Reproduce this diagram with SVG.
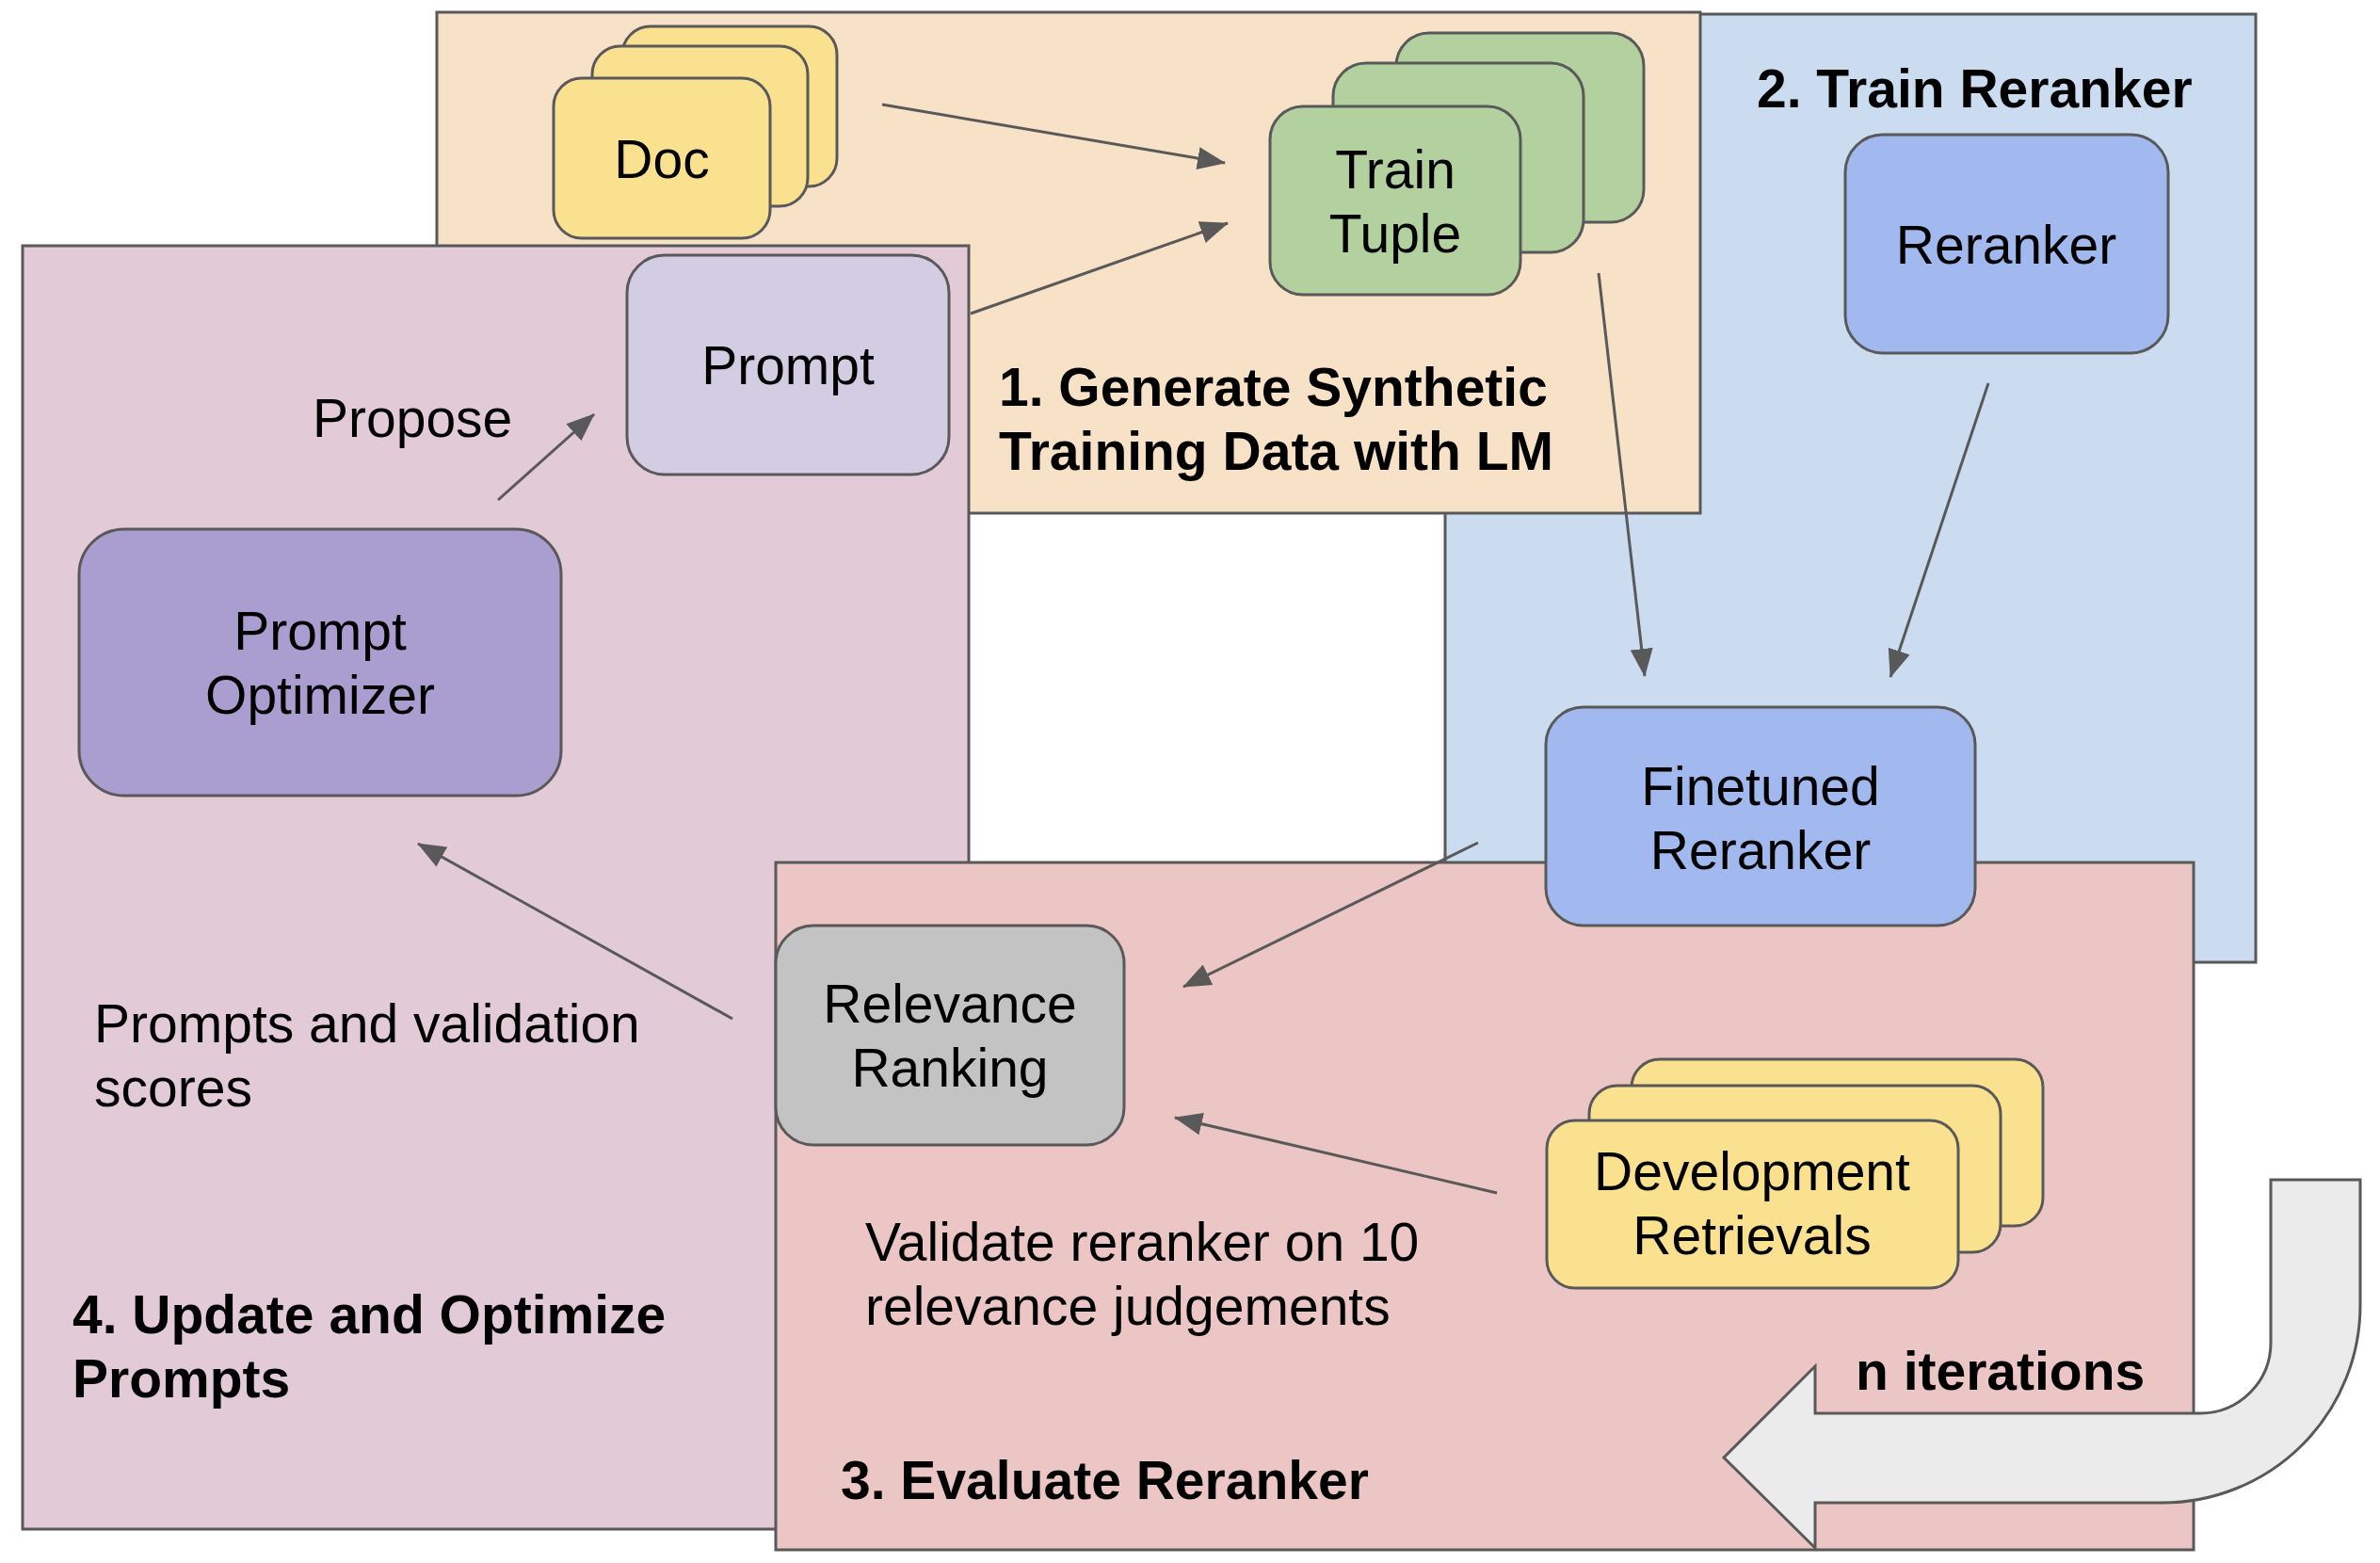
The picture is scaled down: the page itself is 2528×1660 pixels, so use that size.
<svg xmlns="http://www.w3.org/2000/svg" width="2528" height="1660" viewBox="0 0 2528 1660">
<defs>
<style>
.panel{stroke:#595959;stroke-width:3}
.node{stroke:#595959;stroke-width:3}
.t{font-family:"Liberation Sans",Arial,sans-serif;font-size:57px;fill:#000}
.c{text-anchor:middle}
.b{font-weight:bold}
.edge{stroke:#595959;stroke-width:3;fill:none;marker-end:url(#ah)}
</style>
<marker id="ah" viewBox="0 0 30 24" refX="29" refY="12" markerWidth="30" markerHeight="24" markerUnits="userSpaceOnUse" orient="auto">
<path d="M0,0 L30,12 L0,24 Z" fill="#595959"/>
</marker>
</defs>
<rect width="2528" height="1660" fill="#ffffff"/>

<g id="panel-train">
<rect class="panel" x="1535" y="15" width="861" height="1007" fill="#cbdcf1"/>
<text class="t b" x="1866" y="114">2. Train Reranker</text>
</g>
<g id="panel-generate">
<rect class="panel" x="464" y="13" width="1342" height="532" fill="#f7e1c7"/>
<text class="t b" x="1061" y="431">1. Generate Synthetic</text>
<text class="t b" x="1061" y="499">Training Data with LM</text>
</g>
<g id="panel-update">
<rect class="panel" x="24" y="261" width="1005" height="1363" fill="#e2cbd7"/>
<text class="t b" x="77" y="1416">4. Update and Optimize</text>
<text class="t b" x="77" y="1484">Prompts</text>
<text class="t" x="332" y="464">Propose</text>
<text class="t" x="100" y="1107">Prompts and validation</text>
<text class="t" x="100" y="1175">scores</text>
</g>
<g id="panel-evaluate">
<rect class="panel" x="824" y="916" width="1506" height="730" fill="#ecc6c4"/>
<text class="t b" x="893" y="1592">3. Evaluate Reranker</text>
<text class="t" x="919" y="1339">Validate reranker on 10</text>
<text class="t" x="919" y="1407">relevance judgements</text>
</g>

<g id="connectors">
<line class="edge" x1="937" y1="111" x2="1301" y2="173"/>
<line class="edge" x1="1031" y1="333" x2="1304" y2="237"/>
<line class="edge" x1="529" y1="531" x2="631" y2="440"/>
<line class="edge" x1="1698" y1="290" x2="1747" y2="718"/>
<line class="edge" x1="2112" y1="407" x2="2008" y2="719"/>
<line class="edge" x1="1570" y1="895" x2="1257" y2="1048"/>
<line class="edge" x1="1590" y1="1267" x2="1248" y2="1187"/>
<line class="edge" x1="778" y1="1082" x2="444" y2="896"/>
</g>

<g id="node-doc">
<rect class="node" x="661" y="28" width="228" height="170" rx="30" fill="#fae190"/>
<rect class="node" x="629" y="49" width="229" height="170" rx="30" fill="#fae190"/>
<rect class="node" x="588" y="83" width="230" height="170" rx="30" fill="#fae190"/>
<text class="t c" x="703" y="189">Doc</text>
</g>
<g id="node-train-tuple">
<rect class="node" x="1483" y="35" width="263" height="201" rx="35" fill="#b3d19f"/>
<rect class="node" x="1416" y="67" width="266" height="201" rx="35" fill="#b3d19f"/>
<rect class="node" x="1349" y="113" width="266" height="200" rx="35" fill="#b3d19f"/>
<text class="t c" x="1482" y="200">Train</text>
<text class="t c" x="1482" y="268">Tuple</text>
</g>
<g id="node-prompt">
<rect class="node" x="666" y="271" width="342" height="233" rx="40" fill="#d3cde4"/>
<text class="t c" x="837" y="408">Prompt</text>
</g>
<g id="node-reranker">
<rect class="node" x="1960" y="143" width="343" height="232" rx="40" fill="#a1b9ee"/>
<text class="t c" x="2131" y="280">Reranker</text>
</g>
<g id="node-finetuned">
<rect class="node" x="1642" y="751" width="456" height="232" rx="40" fill="#a1b9ee"/>
<text class="t c" x="1870" y="855">Finetuned</text>
<text class="t c" x="1870" y="923">Reranker</text>
</g>
<g id="node-prompt-optimizer">
<rect class="node" x="84" y="562" width="512" height="283" rx="48" fill="#a99ecf"/>
<text class="t c" x="340" y="690">Prompt</text>
<text class="t c" x="340" y="758">Optimizer</text>
</g>
<g id="node-relevance">
<rect class="node" x="824" y="983" width="370" height="233" rx="40" fill="#c3c3c3"/>
<text class="t c" x="1009" y="1086">Relevance</text>
<text class="t c" x="1009" y="1154">Ranking</text>
</g>
<g id="node-dev">
<rect class="node" x="1733" y="1125" width="437" height="177" rx="30" fill="#fae190"/>
<rect class="node" x="1688" y="1153" width="437" height="177" rx="30" fill="#fae190"/>
<rect class="node" x="1643" y="1190" width="437" height="178" rx="30" fill="#fae190"/>
<text class="t c" x="1861" y="1264">Development</text>
<text class="t c" x="1861" y="1332">Retrievals</text>
</g>

<g id="loop-arrow">
<path d="M2412,1253 L2507,1253 L2507,1386 A210,210 0 0 1 2297,1596 L1928,1596 L1928,1644 L1831,1548 L1928,1451 L1928,1501 L2337,1501 A75,75 0 0 0 2412,1426 Z" fill="#ebebeb" stroke="#595959" stroke-width="3"/>
<text class="t b" x="1971" y="1476">n iterations</text>
</g>
</svg>
